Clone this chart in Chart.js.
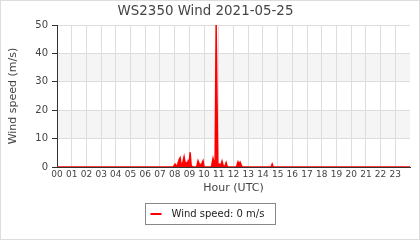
<!DOCTYPE html>
<html>
<head>
<meta charset="utf-8">
<script src="https://cdn.jsdelivr.net/npm/chart.js@4"></script>
<style>
  html, body { margin: 0; padding: 0; background: #fff; }
  #wrap { width: 420px; height: 240px; box-sizing: border-box; border: 1px solid #ddd; }
</style>
</head>
<body>
<div id="wrap"><canvas id="windChart" width="418" height="238"></canvas></div>
<script>
// heures (UTC) et vitesse du vent
const hours = [0, 7.9, 8.03, 8.15, 8.3, 8.37, 8.44, 8.52, 8.64, 8.72, 8.78, 8.85, 8.91, 8.98, 9.05, 9.12, 9.2, 9.5, 9.59, 9.68, 9.8, 9.87, 9.93, 10.0, 10.5, 10.61, 10.7, 10.75, 10.82, 10.87, 10.93, 10.98, 11.05, 11.14, 11.22, 11.3, 11.4, 11.5, 11.58, 12.2, 12.31, 12.38, 12.45, 12.52, 12.6, 14.55, 14.63, 14.7, 24];
const speed = [0, 0, 1, 0, 2.5, 3.2, 1, 0.8, 3.6, 1.2, 1.5, 1, 2, 0.6, 5.2, 0.6, 0, 0, 2.2, 1, 0.8, 1.5, 2.2, 0, 0, 3, 1.2, 1, 50, 50, 1.5, 0.5, 1, 0.6, 2, 0.5, 0, 1.5, 0, 0, 1.8, 1, 1.7, 0.8, 0, 0, 1, 0, 0];
const xTicks = ['00','01','02','03','04','05','06','07','08','09','10','11','12','13','14','15','16','17','18','19','20','21','22','23'];
const bands = [[10, 20], [30, 40]];

const font = "'DejaVu Sans', sans-serif";

// bandes grises, petites graduations et légende encadrée
const decor = {
  id: 'decor',
  beforeDraw(chart) {
    const { ctx, chartArea, scales } = chart;
    ctx.save();
    ctx.fillStyle = '#f5f5f5';
    bands.forEach(b => {
      const y1 = scales.y.getPixelForValue(b[1]);
      const y0 = scales.y.getPixelForValue(b[0]);
      ctx.fillRect(chartArea.left, y1, chartArea.right - chartArea.left, y0 - y1);
    });
    ctx.restore();
  },
  afterDraw(chart) {
    const { ctx, scales } = chart;
    ctx.save();
    // petites graduations (tous les 5)
    ctx.strokeStyle = '#333';
    ctx.lineWidth = 1;
    scales.y.ticks.forEach(t => {
      if (t.value % 10 === 0) return;
      const y = Math.round(scales.y.getPixelForValue(t.value)) + 0.5;
      ctx.beginPath();
      ctx.moveTo(scales.y.right - 3, y);
      ctx.lineTo(scales.y.right, y);
      ctx.stroke();
    });
    // légende
    const ds = chart.data.datasets[0];
    ctx.font = "10px " + font;
    const tw = ctx.measureText(ds.label).width;
    const w = Math.round(5 + 11 + 10 + tw + 11);
    const h = 21;
    const x = Math.round((chart.width - w) / 2) + 0.5;
    const y = 202.5;
    ctx.strokeStyle = '#888';
    ctx.strokeRect(x, y, w, h);
    ctx.strokeStyle = ds.borderColor;
    ctx.lineWidth = 2;
    ctx.beginPath();
    ctx.moveTo(x + 5, y + h / 2);
    ctx.lineTo(x + 16, y + h / 2);
    ctx.stroke();
    ctx.fillStyle = '#222';
    ctx.textBaseline = 'middle';
    ctx.fillText(ds.label, x + 26, y + h / 2 + 0.5);
    ctx.restore();
  }
};

new Chart(document.getElementById('windChart'), {
  type: 'line',
  data: {
    datasets: [{
      label: 'Wind speed: 0 m/s',
      data: hours.map((h, i) => ({ x: h, y: speed[i] })),
      borderColor: 'red',
      backgroundColor: 'red',
      borderWidth: 1.5,
      fill: 'origin',
      pointRadius: 0,
      tension: 0
    }]
  },
  options: {
    responsive: false,
    animation: false,
    layout: { padding: { left: 0, right: 9, top: 0, bottom: 39 } },
    plugins: {
      title: {
        display: true,
        text: 'WS2350 Wind 2021-05-25',
        color: '#444',
        font: { family: font, size: 13.4, weight: 'normal' },
        padding: { top: 2, bottom: 6 }
      },
      legend: { display: false },
      tooltip: { enabled: false }
    },
    scales: {
      x: {
        type: 'linear',
        min: 0,
        max: 24,
        ticks: {
          stepSize: 1,
          autoSkip: false,
          maxRotation: 0,
          color: '#444',
          font: { family: font, size: 9 },
          padding: 2,
          callback: v => xTicks[v] ?? ''
        },
        grid: {
          color: c => c.tick && c.tick.value === 24 ? 'rgba(0,0,0,0)' : '#ddd',
          tickLength: 0
        },
        border: { color: '#333', width: 1 },
        title: {
          display: true,
          text: 'Hour (UTC)',
          color: '#444',
          font: { family: font, size: 11 },
          padding: { top: 0, bottom: 5 }
        }
      },
      y: {
        min: 0,
        max: 50,
        afterFit: s => { s.width = 56; },
        ticks: {
          stepSize: 5,
          color: '#444',
          font: { family: font, size: 10 },
          padding: 4,
          callback: v => v % 10 === 0 ? v : ''
        },
        grid: {
          color: c => c.tick && c.tick.value % 10 !== 0 ? 'rgba(0,0,0,0)' : '#ddd',
          tickColor: c => c.tick && c.tick.value % 10 !== 0 ? 'rgba(0,0,0,0)' : '#333',
          tickLength: 5
        },
        border: { color: '#333', width: 1 },
        title: {
          display: true,
          text: 'Wind speed (m/s)',
          color: '#444',
          font: { family: font, size: 11 },
          padding: { top: 6, bottom: 0 }
        }
      }
    }
  },
  plugins: [decor]
});
</script>
</body>
</html>
